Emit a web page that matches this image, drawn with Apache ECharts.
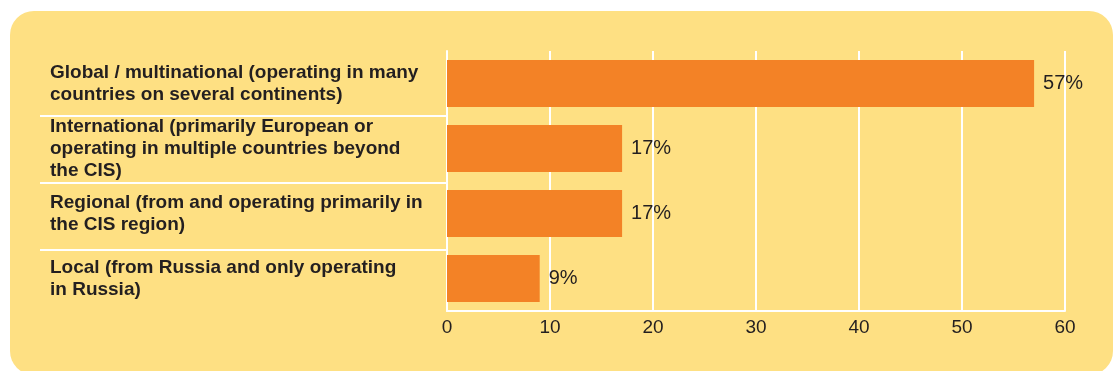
<!DOCTYPE html>
<html lang="en">
<head>
    <meta charset="UTF-8">
    <title>Company type</title>
    <script src="https://cdn.jsdelivr.net/npm/echarts@6/dist/echarts.min.js"></script>
    <style>
        html, body {
            margin: 0;
            padding: 0;
            background: #ffffff;
        }
        #panel {
            position: absolute;
            left: 10px;
            top: 11px;
            width: 1103px;
            height: 364px;
            border-radius: 24px;
            background: #fee083;
        }
        #container {
            position: absolute;
            left: 0;
            top: 0;
            width: 1113px;
            height: 371px;
        }
    </style>
</head>
<body>
    <div id="panel"></div>
    <div id="container"></div>
    <script>
        var categories = [
            'Global / multinational (operating in many\ncountries on several continents)',
            'International (primarily European or\noperating in multiple countries beyond\nthe CIS)',
            'Regional (from and operating primarily in\nthe CIS region)',
            'Local (from Russia and only operating\nin Russia)'
        ];
        var shares = [57, 17, 17, 9];
        var xTicks = [0, 10, 20, 30, 40, 50, 60];

        var textColor = '#231f20';
        var font = "'Liberation Sans', Arial, sans-serif";
        var narrowFont = "'Liberation Sans Narrow', 'Liberation Sans', Arial, sans-serif";

        var chart = echarts.init(document.getElementById('container'));

        chart.setOption({
            backgroundColor: 'transparent',
            animation: false,
            grid: [
                { left: 447, right: 48, top: 51, bottom: 60 },
                // label area, only used for the white separators
                { left: 40, width: 407, top: 49, bottom: 54 }
            ],
            xAxis: [{
                type: 'value',
                min: xTicks[0],
                max: xTicks[xTicks.length - 1],
                interval: xTicks[1] - xTicks[0],
                axisLine: { show: true, lineStyle: { color: '#ffffff', width: 2 } },
                axisTick: { show: false },
                splitLine: { show: true, lineStyle: { color: '#ffffff', width: 2 } },
                axisLabel: {
                    color: textColor,
                    fontFamily: narrowFont,
                    fontSize: 19,
                    margin: 7
                }
            }, {
                gridIndex: 1,
                type: 'value',
                show: false
            }],
            yAxis: [{
                type: 'category',
                inverse: true,
                data: categories,
                axisLine: { show: true, lineStyle: { color: '#ffffff', width: 2 } },
                axisTick: { show: false },
                splitLine: { show: false },
                axisLabel: {
                    align: 'left',
                    margin: 397,
                    color: textColor,
                    fontFamily: font,
                    fontSize: 19,
                    fontWeight: 'bold',
                    lineHeight: 22,
                    padding: [8, 0, 0, 0]
                }
            }, {
                gridIndex: 1,
                type: 'category',
                inverse: true,
                data: categories,
                axisLine: { show: false },
                axisTick: { show: false },
                axisLabel: { show: false },
                splitLine: {
                    show: true,
                    showMinLine: false,
                    showMaxLine: false,
                    lineStyle: { color: '#ffffff', width: 2 }
                }
            }],
            series: [{
                type: 'bar',
                data: shares,
                barCategoryGap: '28%',
                itemStyle: { color: '#f38226' },
                label: {
                    show: true,
                    position: 'right',
                    distance: 9,
                    formatter: '{c}%',
                    color: textColor,
                    fontFamily: font,
                    fontSize: 20,
                    padding: [4, 0, 0, 0]
                }
            }]
        });
    </script>
</body>
</html>
